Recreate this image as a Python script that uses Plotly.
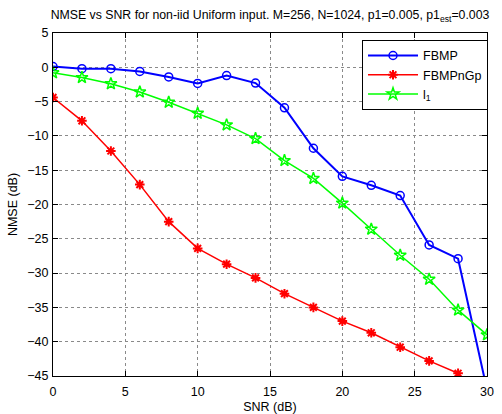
import plotly.graph_objects as go

# SNR sweep (dB)
snr = [0, 2, 4, 6, 8, 10, 12, 14, 16, 18, 20, 22, 24, 26, 28, 30]
snr_fbmpngp = [0, 2, 4, 6, 8, 10, 12, 14, 16, 18, 20, 22, 24, 26, 28]

# NMSE (dB) per method
nmse_fbmp = [0.1, -0.2, -0.2, -0.6, -1.4, -2.35, -1.2, -2.3, -5.9, -11.8, -15.9,
             -17.2, -18.7, -25.9, -27.9, -47.0]
nmse_fbmpngp = [-4.4, -7.8, -12.2, -17.1, -22.5, -26.4, -28.7, -30.7, -33.0, -35.0,
                -37.0, -38.7, -40.8, -42.8, -44.6]
nmse_l1 = [-0.8, -1.5, -2.4, -3.6, -5.1, -6.7, -8.4, -10.4, -13.6, -16.2, -19.8,
           -23.6, -27.4, -30.9, -35.4, -39.0]

x_ticks = [0, 5, 10, 15, 20, 25, 30]
y_ticks = [5, 0, -5, -10, -15, -20, -25, -30, -35, -40, -45]

FONT = "Liberation Sans, Arial, Helvetica, sans-serif"

fig = go.Figure()
fig.add_trace(go.Scatter(
    x=snr, y=nmse_fbmp, name="FBMP", mode="lines+markers",
    line=dict(color="#0000FF", width=2),
    marker=dict(symbol="circle-open", size=8, color="#0000FF", line=dict(width=1.5)),
))
fig.add_trace(go.Scatter(
    x=snr_fbmpngp, y=nmse_fbmpngp, name="FBMPnGp", mode="lines+markers",
    line=dict(color="#FF0000", width=1.5),
    marker=dict(symbol="asterisk-open", size=8, color="#FF0000", line=dict(width=2, color="#FF0000")),
))
fig.add_trace(go.Scatter(
    x=snr, y=nmse_l1, name="l<sub>1</sub>", mode="lines+markers",
    line=dict(color="#00FF00", width=1.5),
    marker=dict(symbol="star-open", size=9, color="#00FF00", line=dict(width=1.5)),
))

axis_common = dict(
    showline=True, linecolor="black", linewidth=1, mirror="ticks",
    ticks="inside", ticklen=5, tickcolor="black",
    showgrid=True, gridcolor="#8a8a8a", griddash="dot", gridwidth=1,
    zeroline=False, automargin=False,
    tickfont=dict(family=FONT, size=12.5, color="black"),
)

fig.update_xaxes(
    range=[0, 30], tickvals=x_ticks, ticklabelstandoff=4,
    title=dict(text="SNR (dB)", font=dict(family=FONT, size=12.5, color="black"), standoff=4),
    **axis_common,
)
fig.update_yaxes(
    range=[-45, 5], tickvals=y_ticks, ticklabelstandoff=1,
    title=dict(text="NMSE (dB)", font=dict(family=FONT, size=12.5, color="black"), standoff=6),
    **axis_common,
)

fig.update_layout(
    width=502, height=414,
    margin=dict(l=53, r=15, t=33, b=38),
    paper_bgcolor="white", plot_bgcolor="white",
    title=dict(
        text="NMSE vs SNR for non-iid Uniform input. M=256, N=1024, p1=0.005, p1<sub>est</sub>=0.003",
        font=dict(family=FONT, size=12.3, color="black"),
        x=0.5, xref="paper", xanchor="center",
        y=1 - 15 / 414, yref="container", yanchor="middle",
    ),
    legend=dict(
        x=0.712, y=0.98, xanchor="left", yanchor="top",
        bgcolor="white", bordercolor="black", borderwidth=1,
        font=dict(family=FONT, size=12.5, color="black"),
        itemwidth=50, tracegroupgap=0,
    ),
    showlegend=True,
)

fig.write_html("out.html")
